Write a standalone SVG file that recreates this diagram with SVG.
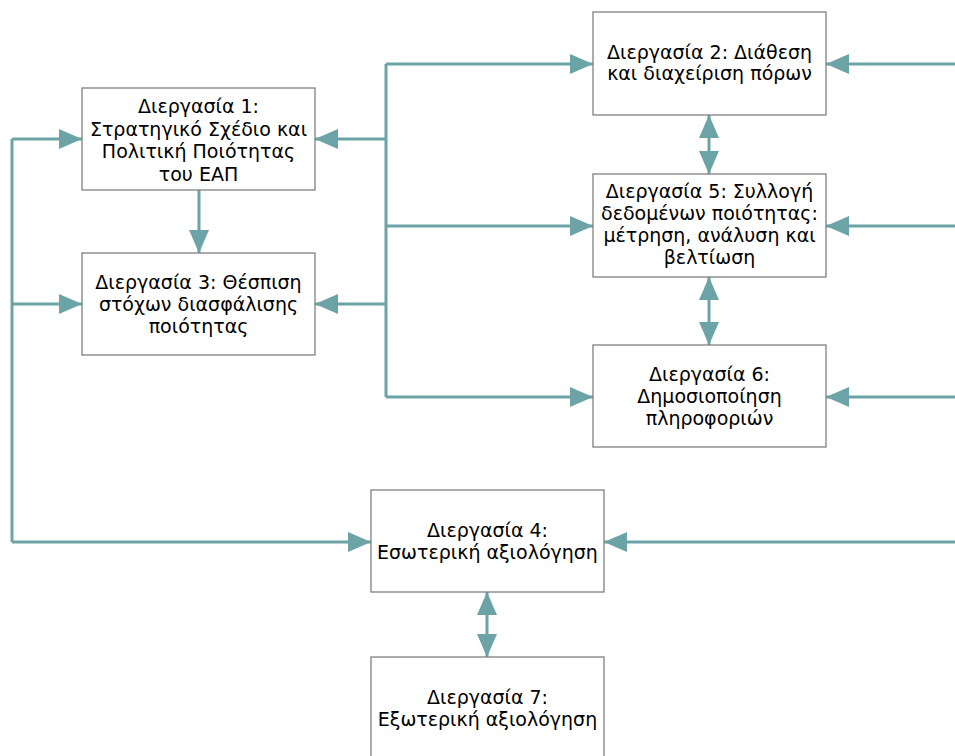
<svg xmlns="http://www.w3.org/2000/svg" width="955" height="756" viewBox="0 0 955 756">
<style>
.box{fill:#ffffff;stroke:#808080;stroke-width:1.3}
.t{font-family:"DejaVu Sans",Verdana,sans-serif;font-size:19px;fill:#000;text-anchor:middle}
.c{fill:none;stroke:#6ba3a6;stroke-width:3}
.ah{fill:#6ba3a6}
</style>
<defs>
<marker id="a" markerUnits="userSpaceOnUse" markerWidth="24" markerHeight="20" refX="23" refY="10" orient="auto-start-reverse" viewBox="0 0 24 20">
<path d="M0,0 L23,10 L0,20 Z" class="ah"/>
</marker>
</defs>
<rect width="955" height="756" fill="#ffffff"/>
<g id="connectors">
<path class="c" d="M386,64 V397"/>
<path class="c" d="M386,64 H593" marker-end="url(#a)"/>
<path class="c" d="M386,226 H593" marker-end="url(#a)"/>
<path class="c" d="M386,397 H593" marker-end="url(#a)"/>
<path class="c" d="M386,139 H315" marker-end="url(#a)"/>
<path class="c" d="M386,304 H315" marker-end="url(#a)"/>
<path class="c" d="M12,139 V542"/>
<path class="c" d="M12,139 H82" marker-end="url(#a)"/>
<path class="c" d="M12,304 H82" marker-end="url(#a)"/>
<path class="c" d="M12,542 H371" marker-end="url(#a)"/>
<path class="c" d="M955,64 H826" marker-end="url(#a)"/>
<path class="c" d="M955,226 H826" marker-end="url(#a)"/>
<path class="c" d="M955,397 H826" marker-end="url(#a)"/>
<path class="c" d="M955,542 H604" marker-end="url(#a)"/>
<path class="c" d="M199,190 V253" marker-end="url(#a)"/>
<path class="c" d="M709,115 V174" marker-start="url(#a)" marker-end="url(#a)"/>
<path class="c" d="M709,277 V345" marker-start="url(#a)" marker-end="url(#a)"/>
<path class="c" d="M487,592 V657" marker-start="url(#a)" marker-end="url(#a)"/>
</g>
<g id="n1"><rect class="box" x="82" y="88" width="233" height="102"/>
<text class="t" x="198.5" y="113">Διεργασία 1:</text>
<text class="t" x="198.5" y="135.5">Στρατηγικό Σχέδιο και</text>
<text class="t" x="198.5" y="158">Πολιτική Ποιότητας</text>
<text class="t" x="198.5" y="180.5">του ΕΑΠ</text></g>
<g id="n3"><rect class="box" x="82" y="253" width="233" height="102"/>
<text class="t" x="198.5" y="289">Διεργασία 3: Θέσπιση</text>
<text class="t" x="198.5" y="311">στόχων διασφάλισης</text>
<text class="t" x="198.5" y="333">ποιότητας</text></g>
<g id="n2"><rect class="box" x="593" y="12" width="233" height="103"/>
<text class="t" x="709.5" y="59">Διεργασία 2: Διάθεση</text>
<text class="t" x="709.5" y="80">και διαχείριση πόρων</text></g>
<g id="n5"><rect class="box" x="593" y="174" width="233" height="103"/>
<text class="t" x="709.5" y="198">Διεργασία 5: Συλλογή</text>
<text class="t" x="709.5" y="220">δεδομένων ποιότητας:</text>
<text class="t" x="709.5" y="242">μέτρηση, ανάλυση και</text>
<text class="t" x="709.5" y="264">βελτίωση</text></g>
<g id="n6"><rect class="box" x="593" y="345" width="233" height="102"/>
<text class="t" x="709.5" y="381">Διεργασία 6:</text>
<text class="t" x="709.5" y="403">Δημοσιοποίηση</text>
<text class="t" x="709.5" y="425">πληροφοριών</text></g>
<g id="n4"><rect class="box" x="371" y="490" width="233" height="102"/>
<text class="t" x="487.5" y="537">Διεργασία 4:</text>
<text class="t" x="487.5" y="559">Εσωτερική αξιολόγηση</text></g>
<g id="n7"><rect class="box" x="371" y="657" width="233" height="102"/>
<text class="t" x="487.5" y="704">Διεργασία 7:</text>
<text class="t" x="487.5" y="726">Εξωτερική αξιολόγηση</text></g>
</svg>
